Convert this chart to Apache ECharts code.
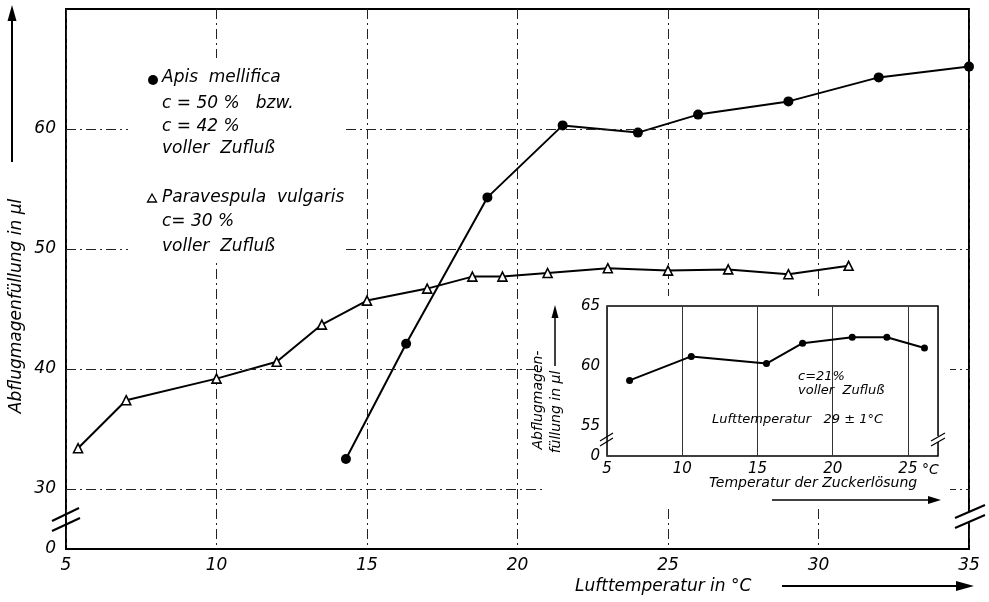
<!DOCTYPE html>
<html>
<head>
<meta charset="utf-8">
<script src="https://cdn.jsdelivr.net/npm/echarts@6/dist/echarts.min.js"></script>
<style>
    html, body {margin: 0; padding: 0; background: #fff;}
    #chart {width: 989px; height: 602px;}
</style>
</head>
<body>
<div id="chart"></div>
<script>
    // Hauptdiagramm: Lufttemperatur (°C) gegen Abflugmagenfüllung (µl)
    var apisTemp = [14.3, 16.3, 19.0, 21.5, 24.0, 26.0, 29.0, 32.0, 35.0];
    var apisFill = [32.5, 42.1, 54.3, 60.3, 59.7, 61.2, 62.3, 64.3, 65.2];

    var vespTemp = [5.4, 7.0, 10.0, 12.0, 13.5, 15.0, 17.0, 18.5, 19.5, 21.0, 23.0, 25.0, 27.0, 29.0, 31.0];
    var vespFill = [33.4, 37.4, 39.2, 40.6, 43.7, 45.7, 46.7, 47.7, 47.7, 48.0, 48.4, 48.2, 48.3, 47.9, 48.6];

    // Nebendiagramm: Temperatur der Zuckerlösung
    var sugarTemp = [6.5, 10.6, 15.6, 18.0, 21.3, 23.6, 26.1];
    var sugarFill = [58.8, 60.8, 60.2, 61.9, 62.4, 62.4, 61.5];

    var mainYTicks = [30, 40, 50, 60];
    var insetXTicks = [5, 10, 15, 20, 25];
    var insetYTicks = [55, 60, 65];

    var FONT = 'DejaVu Sans';

    function pairs(xs, ys) {
        var out = [];
        for (var i = 0; i < xs.length; i++) {
            out.push([xs[i], ys[i]]);
        }
        return out;
    }

    function txt(x, y, s, size, extra) {
        var st = {
            text: s,
            fill: '#000',
            font: 'italic ' + size + 'px "' + FONT + '"',
            textAlign: 'left',
            textVerticalAlign: 'middle'
        };
        var el = {type: 'text', x: x, y: y, z: 100, style: st};
        if (extra) {
            for (var k in extra) el[k] = extra[k];
        }
        return el;
    }

    // senkrecht gedrehter Text
    function vtxt(x, y, s, size) {
        return {
            type: 'text', x: x, y: y, z: 100, rotation: Math.PI / 2,
            style: {
                text: s, fill: '#000', font: 'italic ' + size + 'px "' + FONT + '"',
                textAlign: 'center', textVerticalAlign: 'middle'
            }
        };
    }

    function seg(x1, y1, x2, y2, w) {
        return {
            type: 'line', z: 100,
            shape: {x1: x1, y1: y1, x2: x2, y2: y2},
            style: {stroke: '#000', lineWidth: w || 1.5}
        };
    }

    function head(pts) {
        return {type: 'polygon', z: 100, shape: {points: pts}, style: {fill: '#000'}};
    }

    function blank(x, y, w, h) {
        return {type: 'rect', z: 10, shape: {x: x, y: y, width: w, height: h}, style: {fill: '#fff'}};
    }

    var gridDash = {color: '#222', width: 1, type: [10, 4, 2, 4]};

    var graphics = [
        // weiße Flächen hinter Nebendiagramm und Legende
        blank(545, 296, 405, 210),
        blank(128, 58, 218, 204),

        // y-Achsentitel mit Pfeil
        vtxt(17, 306, 'Abflugmagenfüllung in µl', 17),
        seg(12, 162, 12, 18, 2),
        head([[12, 5], [7.5, 21], [16.5, 21]]),

        // x-Achsentitel mit Pfeil
        txt(575, 587, 'Lufttemperatur in °C', 17),
        seg(782, 586, 962, 586, 2),
        head([[974, 586], [956, 581], [956, 591]]),

        // Achsenbrüche
        seg(52, 521, 79, 508, 2),
        seg(52, 531, 80, 518, 2),
        {type: 'rect', z: 99, shape: {x: 966, y: 512, width: 6, height: 10}, style: {fill: '#fff'}},
        seg(955, 518, 985, 505, 2),
        seg(955, 528, 985, 515, 2),

        // Legende
        {type: 'circle', z: 100, shape: {cx: 153, cy: 80, r: 5}, style: {fill: '#000'}},
        txt(162, 78, 'Apis  mellifica', 17),
        txt(162, 104, 'c = 50 %   bzw.', 17),
        txt(162, 127, 'c = 42 %', 17),
        txt(162, 149, 'voller  Zufluß', 17),
        {type: 'polygon', z: 100, shape: {points: [[152, 194], [147.5, 202], [156.5, 202]]},
            style: {fill: '#fff', stroke: '#000', lineWidth: 1.3}},
        txt(162, 198, 'Paravespula  vulgaris', 17),
        txt(162, 222, 'c= 30 %', 17),
        txt(162, 247, 'voller  Zufluß', 17),

        // Nebendiagramm: Beschriftungen
        vtxt(538, 400, 'Abflugmagen-', 14),
        vtxt(556, 412, 'füllung in µl', 14),
        seg(555, 366, 555, 316, 1.5),
        head([[555, 305], [551.5, 318], [558.5, 318]]),

        txt(798, 377, 'c=21%', 13),
        txt(798, 391, 'voller  Zufluß', 13),
        txt(712, 420, 'Lufttemperatur   29 ± 1°C', 13),

        txt(922, 470, '°C', 14),
        txt(709, 483, 'Temperatur der Zuckerlösung', 14),
        seg(772, 500, 930, 500, 1.5),
        head([[941, 500], [928, 496], [928, 504]]),

        seg(600, 441, 613, 433, 1.3),
        seg(600, 446, 613, 438, 1.3),
        {type: 'rect', z: 99, shape: {x: 936, y: 436, width: 4, height: 6}, style: {fill: '#fff'}},
        seg(931, 441, 945, 433, 1.3),
        seg(931, 446, 945, 438, 1.3)
    ];

    var chart = echarts.init(document.getElementById('chart'), null, {renderer: 'canvas'});

    var option = {
        backgroundColor: '#fff',
        animation: false,
        grid: [
            {left: 66, right: 20, top: 9, bottom: 53, show: true, borderColor: '#000', borderWidth: 2},
            {left: 607, right: 51, top: 306, bottom: 146, show: true, z: 11,
                borderColor: '#000', borderWidth: 1.5, backgroundColor: '#fff'}
        ],
        xAxis: [
            {
                gridIndex: 0, type: 'value', min: 5, max: 35, interval: 5,
                axisLine: {show: false}, axisTick: {show: false},
                splitLine: {show: true, lineStyle: gridDash},
                axisLabel: {color: '#000', fontFamily: FONT, fontStyle: 'italic', fontSize: 17, margin: 8}
            },
            {
                gridIndex: 1, type: 'value', min: 5, max: 27, interval: 5, z: 12,
                axisLine: {show: false}, axisTick: {show: false},
                splitLine: {show: true, lineStyle: {color: '#333', width: 1}},
                axisLabel: {
                    color: '#000', fontFamily: FONT, fontStyle: 'italic', fontSize: 15, margin: 6,
                    formatter: function (v) {
                        return insetXTicks.indexOf(v) >= 0 ? String(v) : '';
                    }
                }
            }
        ],
        yAxis: [
            {
                gridIndex: 0, type: 'value', min: 25, max: 70, interval: 5,
                axisLine: {show: false}, axisTick: {show: false}, splitLine: {show: false},
                axisLabel: {
                    color: '#000', fontFamily: FONT, fontStyle: 'italic', fontSize: 17, margin: 10,
                    formatter: function (v) {
                        if (v === 25) return '0';
                        return mainYTicks.indexOf(v) >= 0 ? String(v) : '';
                    }
                }
            },
            {
                gridIndex: 1, type: 'value', min: 52.5, max: 65, interval: 2.5, z: 12,
                axisLine: {show: false}, axisTick: {show: false}, splitLine: {show: false},
                axisLabel: {
                    color: '#000', fontFamily: FONT, fontStyle: 'italic', fontSize: 15, margin: 7,
                    formatter: function (v) {
                        if (v === 52.5) return '0';
                        return insetYTicks.indexOf(v) >= 0 ? String(v) : '';
                    }
                }
            }
        ],
        graphic: graphics,
        series: [
            {
                name: 'Apis mellifica', type: 'line', xAxisIndex: 0, yAxisIndex: 0,
                data: pairs(apisTemp, apisFill), clip: false,
                symbol: 'circle', symbolSize: 10,
                lineStyle: {color: '#000', width: 2},
                itemStyle: {color: '#000'},
                markLine: {
                    silent: true, symbol: 'none', label: {show: false},
                    lineStyle: gridDash,
                    data: mainYTicks.map(function (v) { return {yAxis: v}; })
                }
            },
            {
                name: 'Paravespula vulgaris', type: 'line', xAxisIndex: 0, yAxisIndex: 0,
                data: pairs(vespTemp, vespFill), clip: false,
                symbol: 'triangle', symbolSize: 9,
                lineStyle: {color: '#000', width: 2},
                itemStyle: {color: '#fff', borderColor: '#000', borderWidth: 1.6}
            },
            {
                name: 'Zuckerlösung', type: 'line', xAxisIndex: 1, yAxisIndex: 1, z: 13,
                data: pairs(sugarTemp, sugarFill), clip: false,
                symbol: 'circle', symbolSize: 7,
                lineStyle: {color: '#000', width: 2},
                itemStyle: {color: '#000'},
                markLine: {
                    silent: true, symbol: 'none', label: {show: false},
                    lineStyle: {color: '#333', width: 1, type: 'solid'},
                    data: [{yAxis: 55}, {yAxis: 60}]
                }
            }
        ]
    };

    chart.setOption(option);
</script>
</body>
</html>
